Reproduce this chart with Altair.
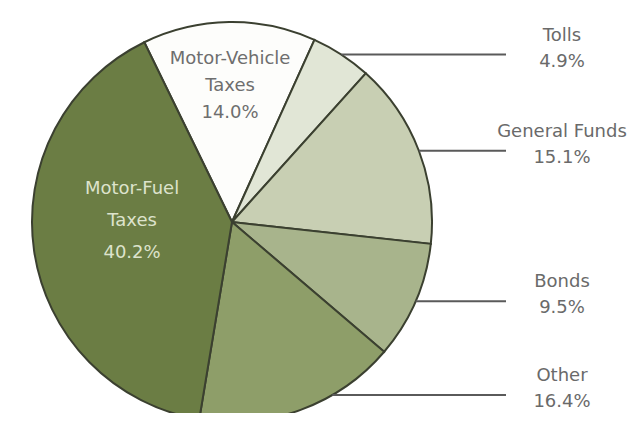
import math
import altair as alt
import pandas as pd

# ---- data ----
categories = ["Motor-Vehicle Taxes", "Tolls", "General Funds", "Bonds", "Other", "Motor-Fuel Taxes"]
label_names = ["Motor-Vehicle\nTaxes", "Tolls", "General Funds", "Bonds", "Other", "Motor-Fuel\nTaxes"]
values = [14.0, 4.9, 15.1, 9.5, 16.4, 40.2]
colors = ["#fdfdfb", "#e1e6d6", "#c8cfb3", "#a8b48c", "#8e9e69", "#6b7d44"]

# ---- layout ----
W, H = 627, 405
CX, CY, R = 224, 214, 200
START = math.radians(-26)
LINE_END = 498
LABEL_X = 554
FONT = "DejaVu Sans"
FS = 18

df = pd.DataFrame({
    "category": categories,
    "name": label_names,
    "value": values,
    "idx": list(range(len(categories))),
})

base = alt.Chart(df)

pie = base.mark_arc(radius=R, stroke="#3b4030", strokeWidth=2).encode(
    theta=alt.Theta("value:Q", stack=True,
                    scale=alt.Scale(range=[START, START + 2 * math.pi])),
    order=alt.Order("idx:Q"),
    color=alt.Color("category:N", scale=alt.Scale(domain=categories, range=colors), legend=None),
    x=alt.value(CX),
    y=alt.value(CY),
)

geo = base.transform_joinaggregate(
    total="sum(value)"
).transform_window(
    cum="sum(value)", sort=[alt.SortField("idx")], frame=[None, 0]
).transform_calculate(
    mid=f"{START} + 2*PI*(datum.cum - datum.value/2)/datum.total",
    pct="format(datum.value, '.1f') + '%'",
).transform_calculate(
    label="datum.name + '\\n' + datum.pct",
)

outer = geo.transform_filter(
    "datum.idx >= 1 && datum.idx <= 4"
).transform_calculate(
    ly=f"min({CY} - {R}*cos(datum.mid), {H - 18})",
).transform_calculate(
    lx=f"{CX} + sqrt({R}*{R} - pow(datum.ly - {CY}, 2))",
)

leaders = outer.mark_rule(color="#5a5a5a", strokeWidth=2).encode(
    x=alt.X("lx:Q", scale=None, axis=None),
    x2=alt.value(LINE_END),
    y=alt.Y("ly:Q", scale=None, axis=None),
)

outer_text = outer.mark_text(
    align="center", baseline="middle", lineBreak="\n", font=FONT,
    fontSize=FS, lineHeight=26, color="#6a6a6a", dy=-19,
).encode(
    x=alt.value(LABEL_X),
    y=alt.Y("ly:Q", scale=None, axis=None),
    text="label:N",
)

def inner(idx, r, dy, color, lh):
    return geo.transform_filter(f"datum.idx == {idx}").transform_calculate(
        tx=f"{CX} + {r}*sin(datum.mid)",
        ty=f"{CY} - {r}*cos(datum.mid)",
    ).mark_text(
        align="center", baseline="middle", lineBreak="\n", font=FONT,
        fontSize=FS, lineHeight=lh, color=color, dy=dy,
    ).encode(
        x=alt.X("tx:Q", scale=None, axis=None),
        y=alt.Y("ty:Q", scale=None, axis=None),
        text="label:N",
    )

mv_text = inner(0, 136, -27, "#6e6e6e", 27)
mf_text = inner(5, 101, -48, "#dde3cc", 32)

chart = alt.layer(pie, leaders, outer_text, mv_text, mf_text).properties(
    width=W, height=H, padding=0, autosize="none", background="#ffffff",
).configure_view(stroke=None)

chart.save("out.html", embed_options={"renderer": "svg", "actions": False})
